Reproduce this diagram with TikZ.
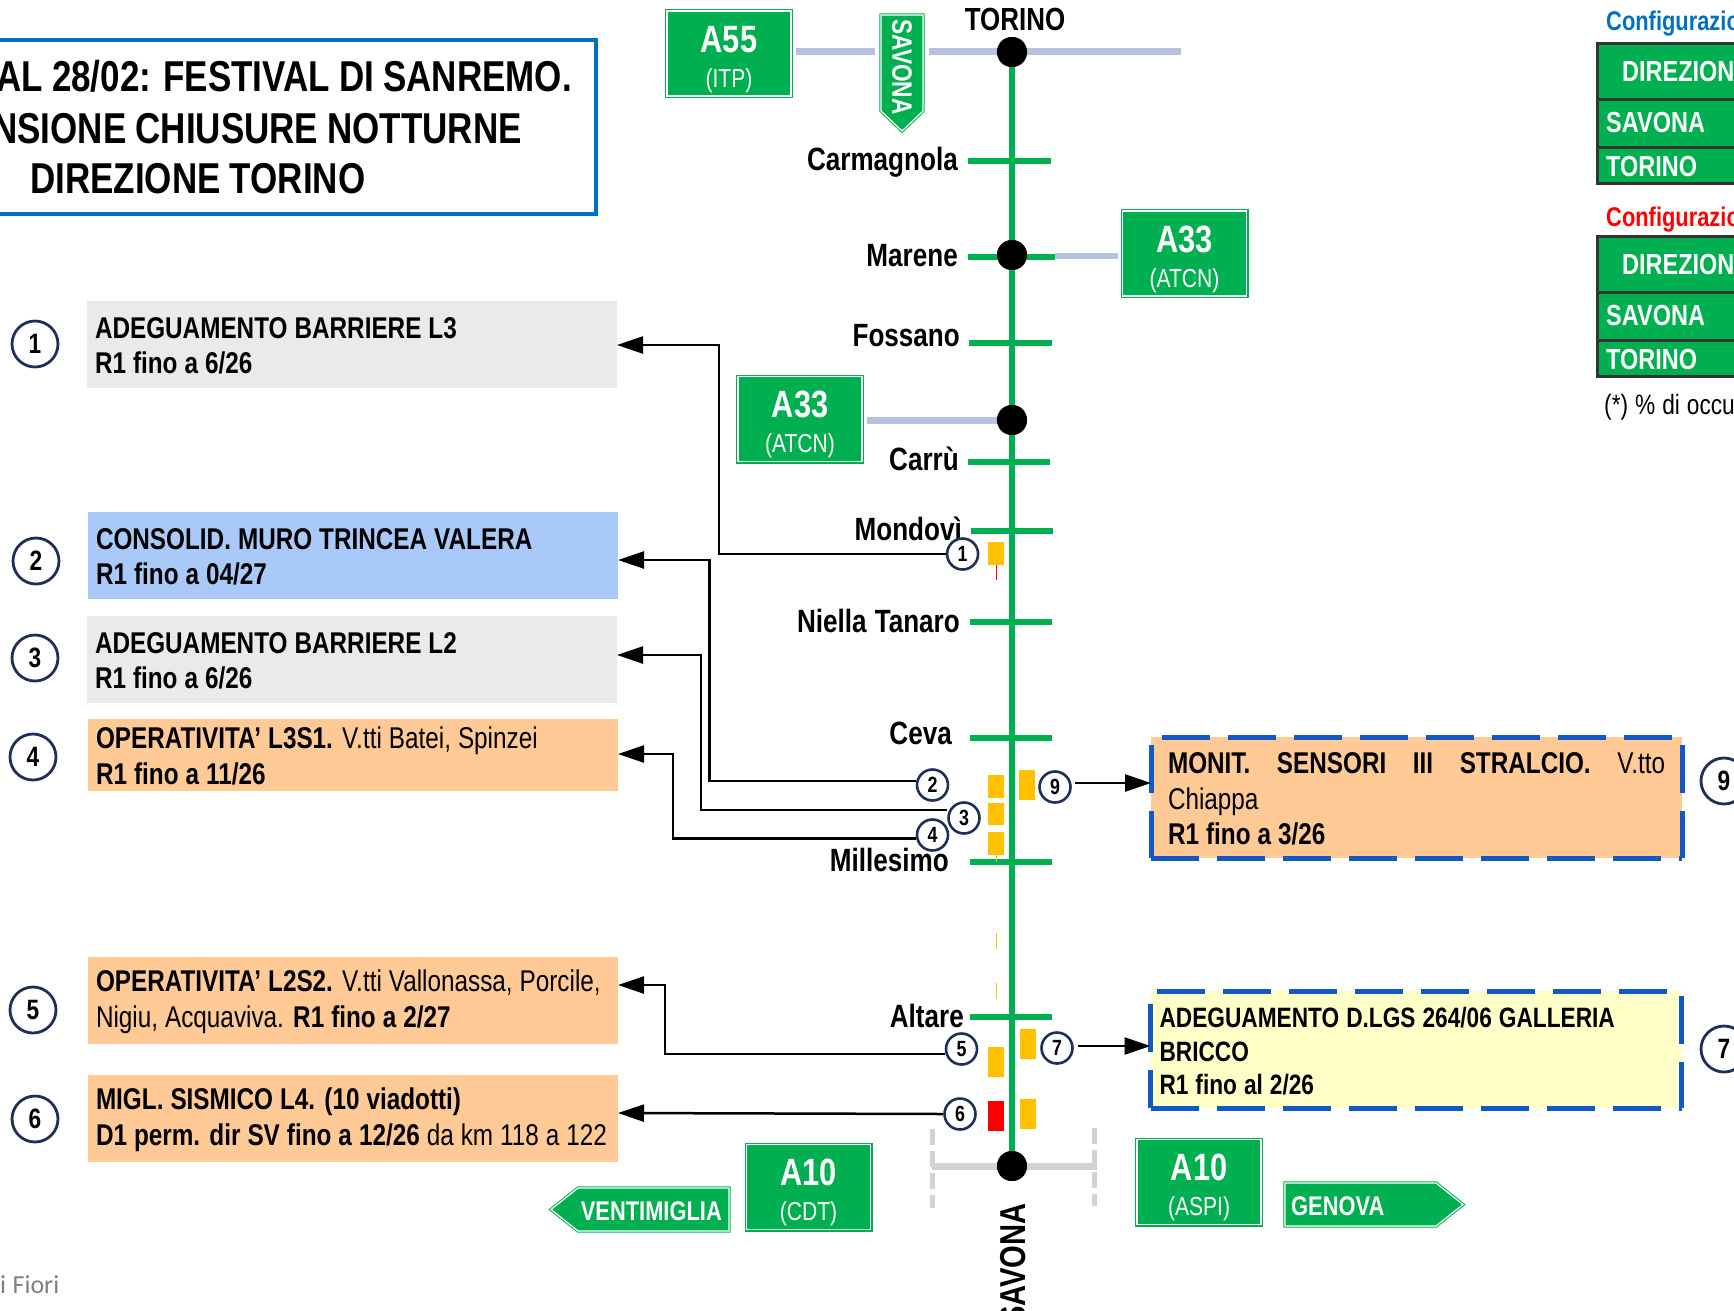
\documentclass[tikz,border=0pt]{standalone}
\usepackage{fontspec}
\setmainfont[FakeStretch=0.81,WordSpace=0.6]{Liberation Sans}
\newfontfamily\footfont{Carlito}
\usetikzlibrary{arrows.meta}
\definecolor{signgreen}{HTML}{00B050}
\definecolor{branchblue}{HTML}{B4C1E0}
\definecolor{framenavy}{HTML}{1F2F57}
\definecolor{dashblue}{HTML}{1159C4}
\definecolor{titleblue}{HTML}{0070C0}
\definecolor{greybox}{HTML}{EBE9EC}
\definecolor{bluebox}{HTML}{A9CAF8}
\definecolor{orangebox}{HTML}{FFCA96}
\definecolor{yellowbox}{HTML}{FFFFC8}
\definecolor{worksite}{HTML}{FFC000}
\newcommand{\pxfont}[1]{\fontsize{#1}{#1}\selectfont\spaceskip=0.25em\relax}
\newcommand{\headfont}{\bfseries\fontsize{43.2}{43.2}\selectfont\spaceskip=0.21em\relax}
\newcommand{\worksetup}{\hyphenpenalty=10000\spaceskip=7pt\relax\rule{0pt}{24pt}}

\begin{document}
\begin{tikzpicture}[x=1pt, y=-1pt,
    signbox/.style={draw=signgreen, double=white, double distance=1.4pt, line width=1.3pt, fill=signgreen, text=white, minimum width=124pt, minimum height=85pt, align=center, inner sep=0pt, font=\fontsize{26}{35}\selectfont},
    signshape/.style={draw=signgreen, double=white, double distance=1.2pt, line width=1pt, fill=signgreen},
    mainline/.style={signgreen, line width=6pt},
    ticktrack/.style={signgreen, line width=6pt},
    branch/.style={branchblue, line width=7pt},
    junction/.style={circle, fill=black, minimum size=30pt, inner sep=0pt},
    station/.style={anchor=base east, font=\bfseries\pxfont{32.2}, inner sep=0pt},
    headline/.style={inner sep=0pt, font=\headfont},
    worksbox/.style={align=flush left, text width=514pt, inner xsep=8pt, inner ysep=0pt, outer sep=0pt, font=\fontsize{30}{35.5}\selectfont, execute at begin node={\worksetup}},
    numbig/.style={circle, draw=framenavy, line width=2.8pt, fill=white, minimum size=46pt, inner sep=0pt, font=\bfseries\pxfont{28}},
    numsmall/.style={circle, draw=framenavy, line width=2.6pt, fill=white, minimum size=31pt, inner sep=0pt, font=\bfseries\pxfont{22}},
    feed/.style={black, line width=2.5pt, ->, >={Triangle[length=26pt,width=17pt]}},
    dashframe/.style={dashblue, line width=5pt, dash pattern=on 48pt off 18pt},
    cellbox/.style={draw=black!80, line width=3pt, fill=signgreen}
]

\useasboundingbox (0,0) rectangle (1734,1310);
\clip (0,0) rectangle (1734,1310);

% Function to draw a motorway sign
\newcommand{\drawsign}[5]{
    % #1 is the Name, #2 is the X, #3 is the Y, #4 the road, #5 the operator
    \node[signbox] (#1) at (#2,#3) {{\bfseries\pxfont{38}\rule{0pt}{38pt}#4}\\#5};
}

% Function to draw a station on the line
\newcommand{\drawstation}[6]{
    % #1 is the Label, #2 is the tick Y, #3 and #4 the tick ends, #5 the label X, #6 the baseline
    \draw[ticktrack] (#3,#2) -- (#4,#2);
    \node[station] at (#5,#6) {#1};
}

% Function to draw a dashed frame round a box
\newcommand{\drawdashes}[4]{
    % #1 is the box, #2 the top offset, #3 the left offset, #4 the right offset
    \draw[dashframe] ([xshift=#2 pt]#1.north west) -- (#1.north east);
    \draw[dashframe] (#1.south west) -- (#1.south east);
    \draw[dashframe] ([yshift=-#3 pt]#1.north west) -- (#1.south west);
    \draw[dashframe] ([yshift=-#4 pt]#1.north east) -- (#1.south east);
}

% Function to draw a configuration table
\newcommand{\drawconfig}[1]{
    % #1 is the Y offset
    \begin{scope}[shift={(0,#1)}]
        \draw[cellbox] (1597,43) rectangle (1745,99);
        \draw[cellbox] (1597,99) rectangle (1745,147);
        \draw[cellbox] (1597,147) rectangle (1745,183);
        \node[anchor=base west, inner sep=0pt, text=white, font=\bfseries\pxfont{29}] at (1622,81) {DIREZION};
        \node[anchor=base west, inner sep=0pt, text=white, font=\bfseries\pxfont{29}] at (1606,132) {SAVONA};
        \node[anchor=base west, inner sep=0pt, text=white, font=\bfseries\pxfont{29}] at (1606,176) {TORINO};
    \end{scope}
}

% Title box
\draw[titleblue, line width=4pt] (-10,40) -- (596,40) -- (596,214) -- (-10,214);
\node[headline, anchor=base east] (title1) at (572,91) {AL 28/02: FESTIVAL DI SANREMO.};
\node[headline, anchor=base east] (title2) at (522,143) {NSIONE CHIUSURE NOTTURNE};
\node[headline, anchor=base west] (title3) at (30,193) {DIREZIONE TORINO};

% Junctions of the line
\node[junction] (torino) at (1012,52) {};
\node[junction] (marene) at (1012,255) {};
\node[junction] (carru) at (1012,420) {};
\node[junction] (savona) at (1012,1166) {};
\coordinate (eastend) at (1181,51);
\coordinate (barwest) at (932,1166);
\coordinate (bareast) at (1097,1166);

% Signs
\drawsign{aFiftyFive}{729}{53.5}{A55}{(ITP)}
\drawsign{aThirtyEast}{1184.5}{253.5}{A33}{(ATCN)}
\drawsign{aThirtyWest}{800}{419}{A33}{(ATCN)}
\drawsign{aTenWest}{808.5}{1187}{A10}{(CDT)}
\drawsign{aTenEast}{1199}{1182}{A10}{(ASPI)}

\draw[signshape] (881,15) -- (923,15) -- (923,111) -- (902,131) -- (881,111) -- cycle;
\node[rotate=-90, minimum width=120pt, minimum height=54pt, inner sep=0pt, text=white, font=\bfseries\pxfont{28}] (savonasign) at (902,67) {SAVONA};
\draw[signshape] (1285,1183) -- (1436,1183) -- (1463,1204.5) -- (1436,1226) -- (1285,1226) -- cycle;
\node[anchor=base west, inner sep=0pt, text=white, font=\bfseries\pxfont{27}] (genova) at (1291,1215) {GENOVA};
\draw[signshape] (729,1188) -- (578,1188) -- (551,1209.5) -- (578,1231) -- (729,1231) -- cycle;
\node[anchor=base east, inner sep=0pt, text=white, font=\bfseries\pxfont{27}] (ventimiglia) at (722,1220) {VENTIMIGLIA};

% Branches to the other motorways
\draw[branch, shorten <=4pt] (aFiftyFive.east |- eastend) -- (savonasign.south |- eastend);
\draw[branch] (savonasign.north |- eastend) -- (torino.west |- eastend);
\draw[branch] (torino.east |- eastend) -- (eastend);
\draw[branch, line width=6pt, shorten >=4pt] (1055,256) -- (aThirtyEast.west |- 0,256);
\draw[branch, shorten <=4pt] (aThirtyWest.east |- carru) -- (carru);
\draw[lightgray!70, line width=7pt] (barwest) -- (savona);
\draw[lightgray!70, line width=7pt] (savona) -- (bareast);
\draw[lightgray!70, line width=5pt, dash pattern=on 16pt off 6pt] (932.5,1129) -- (932.5,1208);
\draw[lightgray!70, line width=5pt, dash pattern=on 16pt off 6pt] (1094.7,1128) -- (1094.7,1206);

% Stations
\drawstation{Carmagnola}{160.7}{968}{1051}{958}{170}
\drawstation{Marene}{257}{968}{1055}{958}{266}
\drawstation{Fossano}{342.7}{969}{1052}{960}{346}
\drawstation{Carrù}{462}{968}{1050}{959}{470}
\drawstation{Mondovì}{530.7}{971}{1053}{962}{540}
\drawstation{Niella Tanaro}{622}{970}{1052}{960}{632}
\drawstation{Ceva}{737.7}{970}{1052}{952}{744}
\drawstation{Millesimo}{862}{970}{1052}{949}{871}
\drawstation{Altare}{1017}{970}{1052}{964}{1027}
\node[anchor=base, inner sep=0pt, font=\bfseries\pxfont{32}] at (1015,30) {TORINO};
\node[rotate=90, anchor=east, inner sep=0pt, font=\bfseries\pxfont{36}] at (1013,1203) {SAVONA};

% Main line
\draw[mainline] (torino) -- (savona);
\node[junction] at (torino) {};
\node[junction] at (marene) {};
\node[junction] at (carru) {};
\node[junction] at (savona) {};

% Worksites along the line
\fill[worksite] (988,542) rectangle (1004,565);
\fill[worksite] (988,775) rectangle (1004,798);
\fill[worksite] (988,803) rectangle (1004,825);
\fill[worksite] (988,832) rectangle (1004,855);
\fill[worksite] (1019,770) rectangle (1035,800);
\fill[worksite] (988,1047) rectangle (1004,1077);
\fill[worksite] (1020,1029) rectangle (1036,1059);
\fill[red] (988,1101) rectangle (1004,1131);
\fill[worksite] (1020,1099) rectangle (1036,1129);
\draw[red, line width=0.8pt] (996.5,565) -- (996.5,580);
\draw[worksite, line width=1pt] (996.5,855) -- (996.5,862);
\draw[worksite, line width=1pt] (996.5,933) -- (996.5,949);
\draw[worksite, line width=1pt] (996.5,983) -- (996.5,999);

% Boxes on the left
\node[worksbox, fill=greybox, minimum height=87pt] (worksOne) at (352,344.5) {\textbf{ADEGUAMENTO BARRIERE L3}\\\textbf{R1 fino a 6/26}};
\node[worksbox, fill=bluebox, minimum height=87pt] (worksTwo) at (353,555.5) {\textbf{CONSOLID. MURO TRINCEA VALERA}\\\textbf{R1 fino a 04/27}};
\node[worksbox, fill=greybox, minimum height=87pt] (worksThree) at (352,659.5) {\textbf{ADEGUAMENTO BARRIERE L2}\\\textbf{R1 fino a 6/26}};
\node[worksbox, fill=orangebox, minimum height=72pt] (worksFour) at (353,755) {\textbf{OPERATIVITA’ L3S1.} V.tti Batei, Spinzei\\\textbf{R1 fino a 11/26}};
\node[worksbox, fill=orangebox, minimum height=87pt] (worksFive) at (353,1000.5) {\textbf{OPERATIVITA’ L2S2.} V.tti Vallonassa, Porcile,\\Nigiu, Acquaviva. \textbf{R1 fino a 2/27}};
\node[worksbox, fill=orangebox, minimum height=87pt] (worksSix) at (353,1118.5) {\textbf{MIGL. SISMICO L4. (10 viadotti)}\\\mbox{\textbf{D1 perm. dir SV fino a 12/26} da km 118 a 122}};

% Boxes on the right
\node[worksbox, fill=orangebox, text width=497pt, inner xsep=17pt, minimum height=121pt] (worksNine) at (1416.5,797.5) {\textbf{MONIT.}\hfill\textbf{SENSORI}\hfill\textbf{III}\hfill\textbf{STRALCIO.}\hfill V.tto\\Chiappa\\\textbf{R1 fino a 3/26}};
\node[worksbox, fill=yellowbox, text width=513pt, inner xsep=9pt, minimum height=117pt, font=\fontsize{28}{33.5}\selectfont] (worksSeven) at (1416,1049.5) {\textbf{ADEGUAMENTO D.LGS 264/06 GALLERIA}\\\textbf{BRICCO}\\\textbf{R1 fino al 2/26}};
\drawdashes{worksNine}{11}{8}{8}
\drawdashes{worksSeven}{6}{13}{5}

% Big numbers beside the boxes
\node[numbig] (legendOne) at (35,344) {1};
\node[numbig] (legendTwo) at (36,561) {2};
\node[numbig] (legendThree) at (35,658) {3};
\node[numbig] (legendFour) at (33,757) {4};
\node[numbig] (legendFive) at (33,1010) {5};
\node[numbig] (legendSix) at (35,1119) {6};
\node[numbig] (legendNine) at (1724,781) {9};
\node[numbig] (legendSeven) at (1724,1049) {7};

% Small numbers beside the line
\node[numsmall] (numOne) at (962.6,554) {1};
\node[numsmall] (numTwo) at (932.5,785) {2};
\node[numsmall] (numThree) at (964,818) {3};
\node[numsmall] (numFour) at (932.5,835) {4};
\node[numsmall] (numFive) at (961.5,1049) {5};
\node[numsmall] (numSix) at (960,1114) {6};
\node[numsmall] (numSeven) at (1057,1048) {7};
\node[numsmall] (numNine) at (1055,787) {9};

% Feeds from the numbers to the boxes
\draw[feed] (numOne.west) -- (719,554) -- (719,345) -- (worksOne.east |- 0,345);
\draw[feed] (numTwo.west |- 0,781) -- (709.6,781) -- (709.6,560) -- (worksTwo.east |- 0,560);
\draw[feed] (numThree.west |- 0,810) -- (700.8,810) -- (700.8,655) -- (worksThree.east |- 0,655);
\draw[feed] (numFour.west |- 0,838.3) -- (673,838.3) -- (673,754) -- (worksFour.east |- 0,754);
\draw[feed] (numFive.west |- 0,1054) -- (665,1054) -- (665,985) -- (worksFive.east |- 0,985);
\draw[feed] (numSix.west) -- (worksSix.east |- 0,1113);
\draw[feed, shorten <=3pt] (numNine.east |- 0,783) -- (worksNine.west |- 0,783);
\draw[feed, shorten <=4pt] (numSeven.east |- 0,1046) -- (worksSeven.west |- 0,1046);

% Configuration tables
\drawconfig{0}
\drawconfig{193}
\node[anchor=base west, inner sep=0pt, text=titleblue, font=\bfseries\pxfont{27}] (configOne) at (1606,30) {Configurazio};
\node[anchor=base west, inner sep=0pt, text=red, font=\bfseries\pxfont{27}] (configTwo) at (1606,226) {Configurazio};
\node[anchor=base west, inner sep=0pt, font=\pxfont{28}] (configNote) at (1604,414) {(*) \% di occu};

% Footer
\node[anchor=base west, inner sep=0pt, text=gray, font=\footfont\pxfont{26}] (footer) at (0,1293) {i Fiori};

\end{tikzpicture}
\end{document}
